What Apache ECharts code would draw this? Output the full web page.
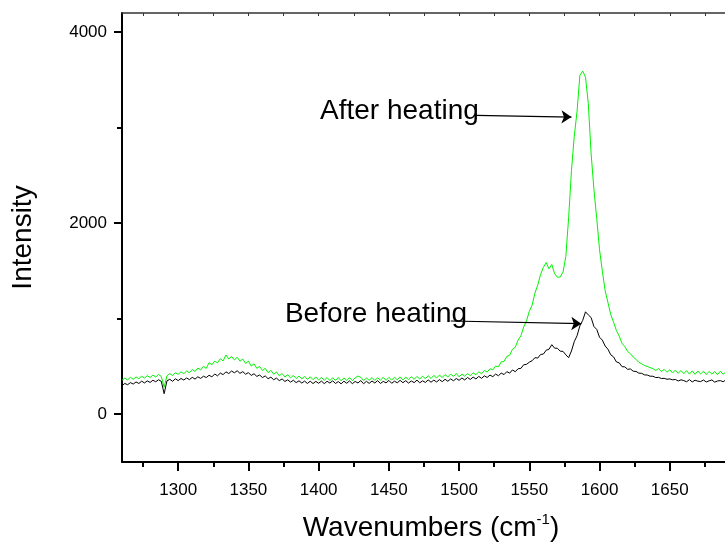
<!DOCTYPE html>
<html>
<head>
<meta charset="utf-8">
<script src="https://cdn.jsdelivr.net/npm/echarts@6/dist/echarts.min.js"></script>
<style>
  html, body { margin: 0; padding: 0; background: #fff; }
  #chart { width: 725px; height: 543px; }
</style>
</head>
<body>
<div id="chart"></div>
<script>
// Raman spectra sampled every 2 cm^-1 from 1260 to 1700 cm^-1
const waveStart = 1260;
const waveStep = 2;

const beforeHeating = [
  300, 322, 309, 331, 316, 338, 322, 346, 328, 349,
  333, 356, 340, 361, 344, 215, 349, 366, 345, 371,
  352, 374, 358, 380, 362, 386, 368, 392, 375, 398,
  384, 408, 391, 421, 402, 431, 414, 444, 426, 452,
  434, 455, 428, 446, 419, 436, 406, 424, 396, 411,
  384, 401, 372, 388, 361, 378, 352, 369, 343, 360,
  336, 356, 331, 350, 326, 347, 322, 346, 321, 344,
  324, 347, 320, 345, 326, 350, 322, 342, 318, 346,
  324, 349, 320, 343, 327, 352, 319, 345, 323, 348,
  327, 352, 322, 344, 328, 354, 324, 346, 329, 355,
  330, 351, 326, 348, 331, 357, 329, 350, 333, 359,
  335, 357, 338, 362, 341, 366, 345, 370, 350, 374,
  355, 379, 359, 384, 364, 389, 369, 396, 376, 402,
  385, 410, 393, 420, 403, 431, 415, 446, 430, 464,
  445, 476, 480, 518, 522, 545, 560, 592, 588, 625,
  630, 670, 680, 728, 692, 690, 660, 658, 622, 592,
  662, 760, 822, 925, 982, 1072, 1040, 1012, 918, 888,
  806, 776, 714, 680, 622, 600, 548, 538, 498, 496,
  470, 474, 450, 448, 430, 428, 412, 410, 398, 398,
  384, 386, 374, 376, 366, 370, 360, 364, 348, 360,
  352, 340, 362, 338, 356, 346, 342, 358, 338, 350,
  359, 336, 348, 352, 340, 361, 338, 354, 346, 336,
  352
];

const afterHeating = [
  356, 377, 360, 386, 366, 391, 372, 398, 378, 404,
  384, 410, 390, 416, 395, 282, 402, 425, 406, 434,
  418, 444, 424, 452, 434, 468, 448, 484, 462, 502,
  480, 540, 518, 556, 538, 582, 558, 620, 578, 605,
  568, 596, 555, 578, 532, 556, 504, 528, 480, 500,
  458, 480, 436, 460, 418, 442, 402, 426, 390, 414,
  380, 406, 374, 400, 370, 396, 364, 392, 362, 390,
  358, 386, 355, 384, 352, 382, 354, 385, 350, 380,
  353, 383, 351, 381, 400, 386, 352, 379, 355, 384,
  354, 382, 357, 386, 355, 385, 358, 388, 360, 391,
  359, 389, 362, 393, 365, 396, 368, 399, 372, 403,
  375, 406, 380, 410, 385, 415, 390, 420, 396, 426,
  392, 420, 397, 426, 404, 434, 413, 444, 424, 458,
  442, 476, 464, 503, 497, 548, 552, 606, 617, 680,
  702, 776, 822, 913, 977, 1078, 1142, 1268, 1352, 1463,
  1537, 1588, 1522, 1568, 1472, 1433, 1437, 1488, 1652, 2058,
  2552, 2908, 3172, 3548, 3592, 3528, 3252, 2728, 2352, 2048,
  1722, 1498, 1292, 1168, 1042, 963, 877, 818, 742, 708,
  657, 633, 598, 574, 544, 528, 510, 500, 488, 478,
  458, 478, 446, 470, 440, 466, 432, 462, 428, 458,
  424, 456, 420, 454, 418, 452, 422, 450, 416, 448,
  420, 446, 414, 450, 418, 444, 412, 448, 416, 442,
  420
];

const xTickLabels = [1300, 1350, 1400, 1450, 1500, 1550, 1600, 1650];
const xMinorTicks = [1275, 1325, 1375, 1425, 1475, 1525, 1575, 1625, 1675];
const xTopTicks = [1275, 1300, 1325, 1350, 1375, 1400, 1425, 1450, 1475, 1500,
                   1525, 1550, 1575, 1600, 1625, 1650, 1675, 1700];
const yTickLabels = [0, 2000, 4000];
const yMinorTicks = [1000, 3000];

// Callout texts and arrows, placed in data units
const annotations = [
  { text: 'After heating',  textAt: [1401, 3169], from: [1512, 3129], to: [1580, 3111] },
  { text: 'Before heating', textAt: [1376, 1049], from: [1494, 976],  to: [1587, 948] }
];

const toPairs = (vals) => vals.map((v, i) => [waveStart + i * waveStep, v]);
const plain = (v) => String(v);

const FONT = 'Liberation Sans, Arial, Helvetica, sans-serif';
const xRange = { min: 1260, max: 1700 };
const yRange = { min: -500, max: 4200 };
// The plot area runs past the right edge of the canvas
const gridRect = { left: 122, top: 13, width: 618, height: 449, outerBoundsMode: 'none', containLabel: false };

const chart = echarts.init(document.getElementById('chart'), null, { renderer: 'canvas' });

const option = {
  animation: false,
  backgroundColor: '#fff',
  grid: [
    Object.assign({}, gridRect),
    Object.assign({}, gridRect)
  ],
  xAxis: [
    {
      type: 'value', gridIndex: 0, position: 'bottom',
      min: xRange.min, max: xRange.max,
      axisLine: { show: true, onZero: false, lineStyle: { color: '#000', width: 2 } },
      axisTick: { show: true, inside: false, length: 9, customValues: xTickLabels,
                  lineStyle: { color: '#000', width: 2 } },
      axisLabel: { show: true, customValues: xTickLabels, margin: 20, formatter: plain,
                   color: '#000', fontFamily: FONT, fontSize: 17 },
      splitLine: { show: false },
      name: '{t|Wavenumbers (cm}{s|-1}{t|)}',
      nameLocation: 'middle', nameGap: 50,
      nameTextStyle: {
        rich: {
          t: { fontFamily: FONT, fontSize: 28, color: '#000', lineHeight: 32 },
          s: { fontFamily: FONT, fontSize: 15, color: '#000', verticalAlign: 'top', lineHeight: 32 }
        }
      }
    },
    {
      type: 'value', gridIndex: 0, position: 'top',
      min: xRange.min, max: xRange.max,
      axisLine: { show: true, onZero: false, lineStyle: { color: '#333', width: 1.5 } },
      axisTick: { show: true, inside: true, length: 3, customValues: xTopTicks,
                  lineStyle: { color: '#333', width: 1 } },
      axisLabel: { show: false },
      splitLine: { show: false }
    },
    {
      type: 'value', gridIndex: 1, position: 'bottom',
      min: xRange.min, max: xRange.max,
      axisLine: { show: false, onZero: false },
      axisTick: { show: true, inside: false, length: 5, customValues: xMinorTicks,
                  lineStyle: { color: '#000', width: 2 } },
      axisLabel: { show: false },
      splitLine: { show: false }
    }
  ],
  yAxis: [
    {
      type: 'value', gridIndex: 0, position: 'left',
      min: yRange.min, max: yRange.max,
      axisLine: { show: true, onZero: false, lineStyle: { color: '#000', width: 2 } },
      axisTick: { show: true, inside: false, length: 8, customValues: yTickLabels,
                  lineStyle: { color: '#000', width: 2 } },
      axisLabel: { show: true, customValues: yTickLabels, margin: 15, formatter: plain,
                   color: '#000', fontFamily: FONT, fontSize: 17 },
      splitLine: { show: false },
      name: 'Intensity',
      nameLocation: 'middle', nameGap: 85,
      nameTextStyle: { fontFamily: FONT, fontSize: 28, color: '#000' }
    },
    {
      type: 'value', gridIndex: 1, position: 'left',
      min: yRange.min, max: yRange.max,
      axisLine: { show: false, onZero: false },
      axisTick: { show: true, inside: false, length: 5, customValues: yMinorTicks,
                  lineStyle: { color: '#000', width: 2 } },
      axisLabel: { show: false },
      splitLine: { show: false }
    }
  ],
  series: [
    {
      name: 'Before heating', type: 'line', xAxisIndex: 0, yAxisIndex: 0,
      data: toPairs(beforeHeating),
      showSymbol: false, symbol: 'none', smooth: false,
      lineStyle: { color: '#000', width: 1 },
      z: 2
    },
    {
      name: 'After heating', type: 'line', xAxisIndex: 0, yAxisIndex: 0,
      data: toPairs(afterHeating),
      showSymbol: false, symbol: 'none', smooth: false,
      lineStyle: { color: '#00f200', width: 1 },
      z: 3,
      markLine: {
        silent: true,
        animation: false,
        symbol: ['none', 'arrow'],
        symbolSize: 10,
        label: { show: false },
        emphasis: { disabled: true },
        lineStyle: { color: '#000', width: 1.2, type: 'solid' },
        itemStyle: { color: '#000' },
        data: annotations.map(a => [{ coord: a.from }, { coord: a.to }])
      }
    }
  ]
};

chart.setOption(option);

// Callout texts positioned from data coordinates
chart.setOption({
  graphic: annotations.map(a => {
    const p = chart.convertToPixel({ gridIndex: 0 }, a.textAt);
    return {
      type: 'text', x: p[0], y: p[1], z: 10, silent: true,
      style: {
        text: a.text, fill: '#000',
        font: '28px ' + FONT,
        textAlign: 'left', textVerticalAlign: 'middle'
      }
    };
  })
});
</script>
</body>
</html>
